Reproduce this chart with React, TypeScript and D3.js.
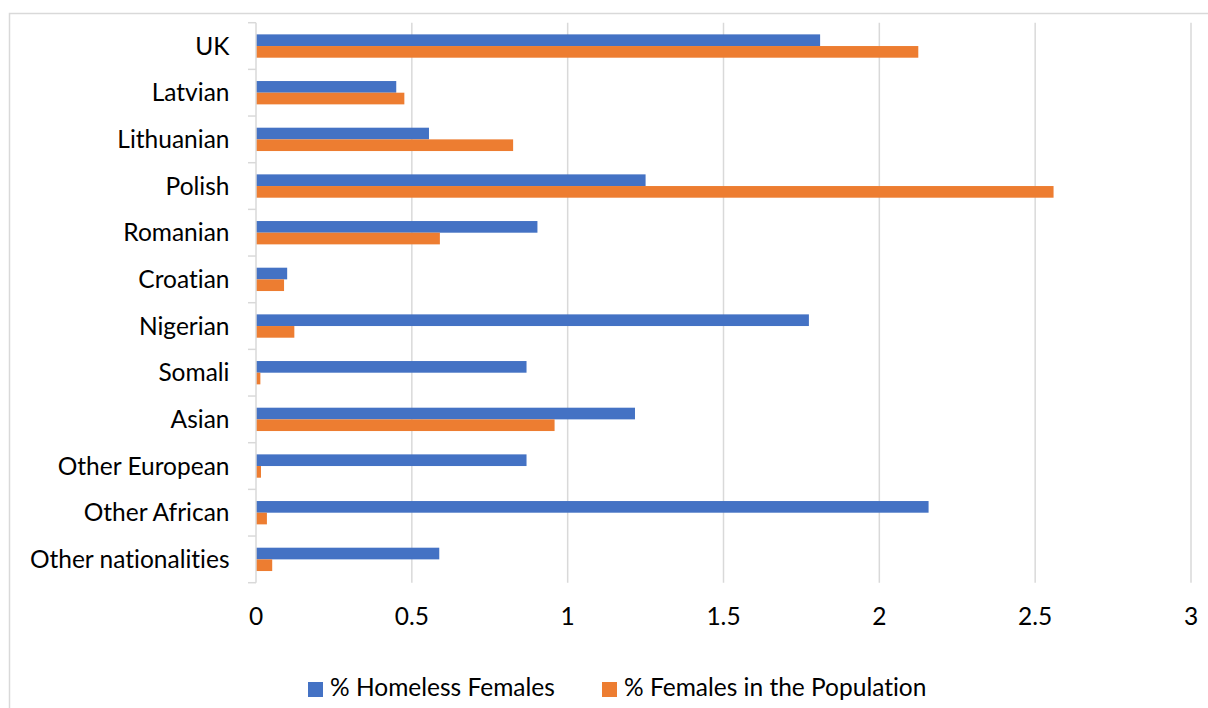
import React, { useEffect, useRef } from 'react';
import * as d3 from 'd3';

const categories = [
    'UK',
    'Latvian',
    'Lithuanian',
    'Polish',
    'Romanian',
    'Croatian',
    'Nigerian',
    'Somali',
    'Asian',
    'Other European',
    'Other African',
    'Other nationalities',
];
const homelessFemales = [1.81, 0.45, 0.555, 1.25, 0.903, 0.1, 1.774, 0.868, 1.216, 0.868, 2.158, 0.588];
const femalesInPopulation = [2.125, 0.476, 0.825, 2.559, 0.59, 0.09, 0.123, 0.014, 0.958, 0.016, 0.035, 0.052];
const seriesNames = ['% Homeless Females', '% Females in the Population'];
const seriesColors = ['#4472C4', '#ED7D31'];
const xTicks = [0, 0.5, 1, 1.5, 2, 2.5, 3];

const font = 'Lato, "Open Sans", sans-serif';
const fontSize = '24.5px';

const App = () => {
    const chart = useRef<SVGSVGElement>(null);

    useEffect(() => {
        const width = 1208;
        const height = 708;
        const left = 256;
        const right = 1191;
        const top = 22.7;
        const bottom = 582.7;

        const svg = d3.select(chart.current);
        svg.selectAll('*').remove();

        // chart frame
        svg.append('rect')
            .attr('x', 9.5)
            .attr('y', 13.5)
            .attr('width', width + 20)
            .attr('height', height + 20)
            .attr('fill', '#fff')
            .attr('stroke', '#D9D9D9')
            .attr('stroke-width', 1.5);

        const x = d3.scaleLinear().domain([0, 3]).range([left, right]);
        const y = d3.scaleBand().domain(categories).range([top, bottom]).padding(0);
        const inner = d3
            .scaleBand()
            .domain(seriesNames)
            .range([y.bandwidth() * 0.25, y.bandwidth() * 0.75]);

        // vertical gridlines
        svg.append('g')
            .selectAll('line')
            .data(xTicks.slice(1))
            .join('line')
            .attr('x1', d => x(d))
            .attr('x2', d => x(d))
            .attr('y1', top)
            .attr('y2', bottom)
            .attr('stroke', '#D9D9D9')
            .attr('stroke-width', 1.5);

        const texts = svg.append('g')
            .style('font-family', font)
            .style('font-size', fontSize)
            .style('font-variant-ligatures', 'none')
            .attr('fill', '#000');

        // x tick labels
        texts.append('g')
            .selectAll('text')
            .data(xTicks)
            .join('text')
            .attr('x', d => x(d))
            .attr('y', 625)
            .attr('text-anchor', 'middle')
            .text(d => String(d));

        // bars
        const rows = categories.map((c, i) => ({
            cat: c,
            vals: [homelessFemales[i], femalesInPopulation[i]],
        }));
        const groups = svg.append('g')
            .selectAll('g')
            .data(rows)
            .join('g')
            .attr('transform', d => 'translate(0,' + y(d.cat) + ')');
        groups.selectAll('rect')
            .data(d => d.vals.map((v, j) => ({ v, s: seriesNames[j], c: seriesColors[j] })))
            .join('rect')
            .attr('x', x(0))
            .attr('y', d => inner(d.s) as number)
            .attr('width', d => x(d.v) - x(0))
            .attr('height', inner.bandwidth())
            .attr('fill', d => d.c);

        // y axis line and ticks
        svg.append('line')
            .attr('x1', left)
            .attr('x2', left)
            .attr('y1', top)
            .attr('y2', bottom)
            .attr('stroke', '#D9D9D9')
            .attr('stroke-width', 1.5);
        const boundaries = categories.map(c => y(c) as number).concat([bottom]);
        svg.append('g')
            .selectAll('line')
            .data(boundaries)
            .join('line')
            .attr('x1', left - 8)
            .attr('x2', left)
            .attr('y1', d => d)
            .attr('y2', d => d)
            .attr('stroke', '#D9D9D9')
            .attr('stroke-width', 1.5);

        // category labels
        texts.append('g')
            .selectAll('text')
            .data(categories)
            .join('text')
            .attr('x', 229.5)
            .attr('y', d => (y(d) as number) + y.bandwidth() / 2 + 8.5)
            .attr('text-anchor', 'end')
            .text(d => d);

        // legend
        const legendX = [308, 602];
        const legend = texts.append('g')
            .selectAll('g')
            .data(seriesNames)
            .join('g')
            .attr('transform', (d, i) => 'translate(' + legendX[i] + ',682)');
        legend.append('rect')
            .attr('width', 15)
            .attr('height', 15)
            .attr('fill', (d, i) => seriesColors[i]);
        legend.append('text')
            .attr('x', 22)
            .attr('y', 14)
            .text(d => d);
    });

    return (
        <div style={{ position: 'absolute', left: 0, top: 0 }}>
            <svg ref={chart} width={1208} height={708} style={{ display: 'block' }}></svg>
        </div>
    );
};

export default App;
